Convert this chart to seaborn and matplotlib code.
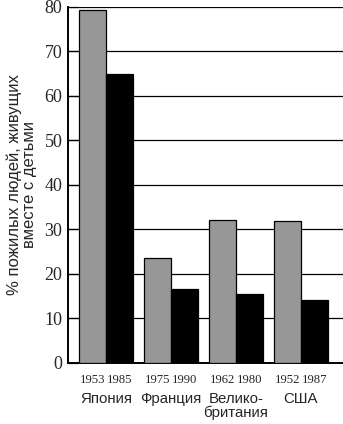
import matplotlib
matplotlib.use("Agg")
import matplotlib.pyplot as plt
import seaborn as sns
import pandas as pd

countries = ["Япония", "Франция", "Велико-\nбритания", "США"]
years_first = ["1953", "1975", "1962", "1952"]
years_second = ["1985", "1990", "1980", "1987"]
values_first = [79.3, 23.5, 32.2, 31.8]
values_second = [65.0, 16.6, 15.4, 14.2]
y_ticks = [0, 10, 20, 30, 40, 50, 60, 70, 80]
y_label = "% пожилых людей, живущих\nвместе с детьми"

df = pd.DataFrame({
    "country": countries * 2,
    "period": ["first"] * 4 + ["second"] * 4,
    "value": values_first + values_second,
})

sns.set_style("white")
fig = plt.figure(figsize=(3.43, 4.24), dpi=100)
ax = fig.add_axes([0.198, 0.144, 0.802, 0.8395])

sns.barplot(data=df, x="country", y="value", hue="period",
            order=countries, hue_order=["first", "second"],
            palette=["#979797", "#000000"], width=0.83, gap=0,
            edgecolor="black", linewidth=0.9, ax=ax, legend=False, zorder=3)

ax.set_ylim(0, 80)
ax.set_xlim(-0.585, 3.65)
ax.set_yticks(y_ticks)
ax.set_yticklabels([str(v) for v in y_ticks], fontfamily="Liberation Serif", fontsize=13)
for v in y_ticks[1:]:
    ax.axhline(v, color="black", linewidth=0.9, zorder=1)

# year tick labels at bar centres
patches = sorted(ax.patches, key=lambda p: p.get_x())
centers = [p.get_x() + p.get_width() / 2 for p in patches]
year_labels = []
for a, b in zip(years_first, years_second):
    year_labels += [a, b]
ax.set_xticks(centers)
ax.set_xticklabels(year_labels, fontfamily="Liberation Serif", fontsize=9.2)
ax.tick_params(axis="x", length=0, pad=8)
ax.tick_params(axis="y", direction="in", length=7, width=0.9, pad=4, left=True)
ax.set_xlabel("")

trans = ax.get_xaxis_transform()
for i, name in enumerate(countries):
    ax.text(i, -0.082, name, transform=trans, ha="center", va="top",
            fontfamily="Liberation Sans", fontsize=10.8, linespacing=0.95)

ax.set_ylabel(y_label, fontfamily="Liberation Sans", fontsize=12,
              linespacing=1.0)
ax.yaxis.set_label_coords(-0.112, 0.5)

for s in ["top", "right"]:
    ax.spines[s].set_visible(False)
for s in ["left", "bottom"]:
    ax.spines[s].set_color("black")
    ax.spines[s].set_linewidth(1.4)

fig.savefig("out.png", dpi=100)
